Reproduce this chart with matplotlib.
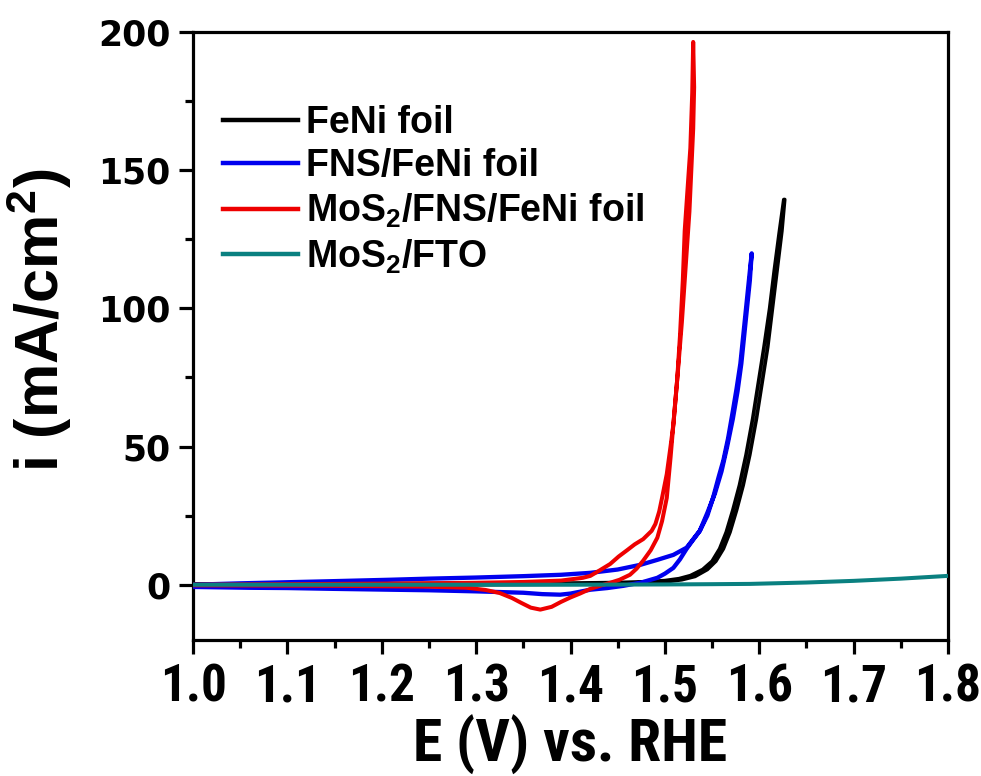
import matplotlib
matplotlib.use("Agg")
import matplotlib.pyplot as plt
from matplotlib.ticker import MultipleLocator
from matplotlib import font_manager as fm

# ---------------- data ----------------
feni_E = [1.000, 1.200, 1.400, 1.450, 1.480, 1.500, 1.515, 1.527, 1.540, 1.550, 1.558,
          1.565, 1.572, 1.579, 1.586, 1.593, 1.599, 1.605, 1.611, 1.616, 1.621, 1.626,
          1.627, 1.624, 1.619, 1.614, 1.609, 1.603, 1.597, 1.590, 1.583, 1.576, 1.569,
          1.562, 1.554, 1.545, 1.532, 1.518, 1.500, 1.450, 1.400, 1.300, 1.000]
feni_i = [0.3, 0.4, 0.6, 0.8, 1.1, 1.5, 2.2, 3.3, 5.5, 8.5, 13,
          19, 27, 36, 47, 60, 73, 86, 100, 114, 127, 139.4,
          139.4, 128, 114, 100, 86, 73, 60, 47, 36, 27, 19,
          13, 8.5, 5.5, 3.0, 1.8, 1.0, 0.5, 0.2, 0.0, 0.0]

fns_E = [1.000, 1.050, 1.100, 1.150, 1.209, 1.250, 1.300, 1.350, 1.390, 1.421, 1.450,
         1.474, 1.492, 1.509, 1.523, 1.537, 1.545, 1.551, 1.557, 1.562, 1.567, 1.572,
         1.576, 1.580, 1.583, 1.586, 1.589, 1.592,
         1.590, 1.587, 1.584, 1.581, 1.577, 1.572, 1.566, 1.560, 1.553, 1.545, 1.537,
         1.530, 1.523, 1.516, 1.509, 1.500, 1.492, 1.475, 1.456, 1.439, 1.421, 1.400,
         1.389, 1.370, 1.350, 1.300, 1.250, 1.209, 1.150, 1.100, 1.060, 1.000]
fns_i = [0.0, 0.5, 0.9, 1.3, 1.8, 2.2, 2.6, 3.1, 3.6, 4.3, 5.5,
         7.2, 9.0, 10.8, 13.4, 19.5, 25, 31.4, 39, 45, 53, 62.8,
         71, 80, 90, 100, 110, 119.9,
         110, 100, 90, 80, 70, 60, 50, 41, 33, 26, 19.5,
         16.3, 13.0, 9.2, 6.1, 4.0, 2.5, 0.8, -0.4, -1.2, -1.8, -3.2,
         -3.6, -3.4, -2.9, -2.4, -2.0, -1.8, -1.5, -1.2, -1.1, -0.8]

mos2_E = [1.000, 1.100, 1.200, 1.300, 1.350, 1.390, 1.413, 1.421, 1.430, 1.442, 1.451,
          1.460, 1.468, 1.477, 1.486, 1.490, 1.494, 1.497, 1.502, 1.506, 1.509, 1.513,
          1.516, 1.519, 1.521, 1.524, 1.527, 1.529, 1.530,
          1.531, 1.530, 1.528, 1.526, 1.522, 1.518, 1.514, 1.510, 1.506, 1.502, 1.497,
          1.492, 1.485, 1.477, 1.470, 1.463, 1.452, 1.442, 1.432, 1.421, 1.410, 1.400,
          1.390, 1.380, 1.368, 1.358, 1.348, 1.338, 1.325, 1.310, 1.290, 1.250, 1.150,
          1.000]
mos2_i = [0.0, 0.2, 0.4, 0.7, 1.0, 1.5, 2.5, 3.2, 5.0, 7.5, 10.2,
          12.5, 14.6, 16.5, 19.5, 22, 26.5, 31.4, 40, 50, 58, 74,
          90, 110, 128, 143, 158, 178, 196.4,
          180, 165, 150, 135, 115, 95, 78, 62, 46, 31.4, 23,
          17, 12.5, 8.7, 5.8, 3.6, 1.8, 0.7, -0.3, -1.5, -3.2, -4.6,
          -6.2, -8.0, -9.0, -8.3, -6.6, -4.8, -3.0, -1.9, -1.1, -0.7, -0.4,
          -0.2]

fto_E = [1.00, 1.10, 1.20, 1.30, 1.40, 1.50, 1.55, 1.59, 1.65, 1.70, 1.75, 1.80]
fto_i = [0.0, 0.0, 0.0, 0.0, 0.0, 0.1, 0.2, 0.3, 0.8, 1.4, 2.2, 3.2]

labels = ["FeNi foil", "FNS/FeNi foil", r"MoS$_\mathbf{2}$/FNS/FeNi foil", r"MoS$_\mathbf{2}$/FTO"]
colors = ["#000000", "#0000ee", "#ee0000", "#0a8080"]
xticks = [1.0, 1.1, 1.2, 1.3, 1.4, 1.5, 1.6, 1.7, 1.8]
yticks = [0, 50, 100, 150, 200]

# pick a condensed bold face if one is installed
names = {f.name for f in fm.fontManager.ttflist}
cond_fams = [n for n in ['Liberation Sans Narrow', 'DejaVu Sans Condensed', 'Roboto Condensed']
             if n in names]
cond_stretch = 'normal'
if not cond_fams:
    cond = [f for f in fm.fontManager.ttflist
            if f.name == 'DejaVu Sans' and 'ondensed' in f.fname and f.weight in (700, 'bold')]
    if cond:
        cond_fams = ['DejaVu Sans']
        cond_stretch = 'condensed'
narrow = (cond_fams + ['Liberation Sans']) if cond_fams else ['Liberation Sans']
narrow_ok = bool(cond_fams)

# ---------------- figure ----------------
plt.rcParams['mathtext.fontset'] = 'custom'
plt.rcParams['mathtext.bf'] = 'Liberation Sans:bold'
plt.rcParams['mathtext.rm'] = 'Liberation Sans:bold'
plt.rcParams['mathtext.it'] = 'Liberation Sans:bold'

fig = plt.figure(figsize=(9.81, 7.76), dpi=100)
ax = fig.add_axes([193/981, 1-640/776, 755/981, 608/776])

ax.plot(feni_E, feni_i, color=colors[0], lw=2.6, label=labels[0], zorder=2)
ax.plot(fns_E, fns_i, color=colors[1], lw=3.1, label=labels[1], zorder=3)
ax.plot(mos2_E, mos2_i, color=colors[2], lw=2.9, label=labels[2], zorder=4)
ax.plot(fto_E, fto_i, color=colors[3], lw=2.9, label=labels[3], zorder=5)

ax.set_xlim(1.0, 1.8)
ax.set_ylim(-20, 200)
ax.set_xticks(xticks)
ax.set_yticks(yticks)
ax.xaxis.set_minor_locator(MultipleLocator(0.05))
ax.yaxis.set_minor_locator(MultipleLocator(25))
ax.set_xticklabels([f"{t:.1f}" for t in xticks],
                   fontdict=dict(family=narrow, stretch=cond_stretch,
                                 weight='bold', size=37 if narrow_ok else 30))
ax.set_yticklabels([str(t) for t in yticks],
                   fontdict=dict(family='DejaVu Sans', weight='bold', size=25))

for s in ax.spines.values():
    s.set_linewidth(2.3)
ax.tick_params(which='both', direction='out', width=2.3, top=False, right=False)
ax.tick_params(which='major', length=10)
ax.tick_params(which='minor', length=6)
ax.tick_params(axis='x', pad=6)
ax.tick_params(axis='y', pad=6)

ax.set_xlabel("E (V) vs. RHE", family=narrow, stretch=cond_stretch,
              weight='bold', size=43 if narrow_ok else 37, labelpad=2)
ax.set_ylabel(r"i (mA/cm$^\mathbf{2}$)", family='Liberation Sans', weight='bold',
              size=44)
ax.yaxis.set_label_coords(-0.158, 0.525)

leg = ax.legend(loc='upper left', bbox_to_anchor=(0.02, 0.905), frameon=False,
                prop=dict(family='Liberation Sans', weight='bold', size=27),
                handlelength=2.0, handletextpad=0.2, labelspacing=0.2,
                borderaxespad=0.0)
for h in leg.get_lines():
    h.set_linewidth(3.2)

fig.savefig("out.png", dpi=100)
